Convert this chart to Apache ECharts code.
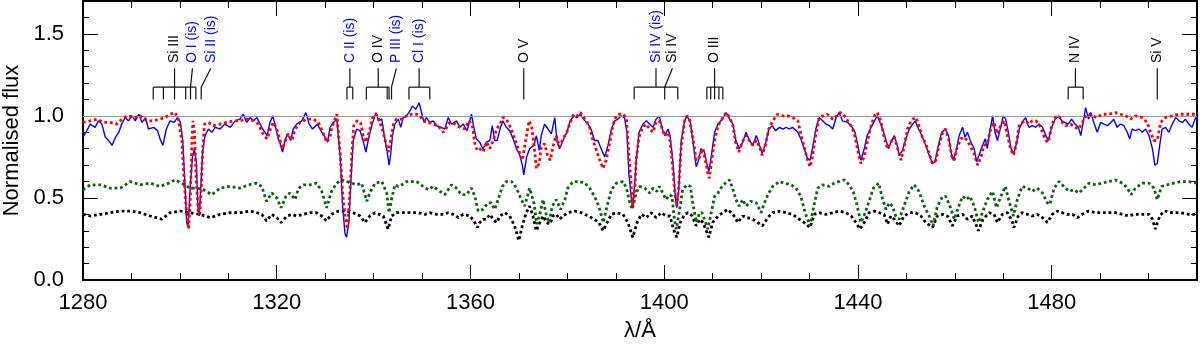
<!DOCTYPE html>
<html>
<head>
<meta charset="utf-8" />
<title>Normalised flux</title>
<script src="https://cdn.jsdelivr.net/npm/echarts@6/dist/echarts.min.js"></script>
<style>
  html, body { margin: 0; padding: 0; background: #fff; }
  #chart { width: 1200px; height: 345px; }
</style>
</head>
<body>
<div id="chart"></div>
<script type="text/javascript">
// observed spectrum (blue), [wavelength, flux]
var observed = [
  [1280.0,0.87],[1280.8,0.91],[1281.5,0.95],[1282.5,0.93],[1283.2,0.97],[1283.9,0.95],[1284.6,0.87],[1285.3,0.85],[1286.0,0.82],[1286.7,0.87],
  [1287.4,0.90],[1288.0,0.95],[1288.7,0.99],[1289.4,0.97],[1290.1,1.00],[1290.8,0.97],[1291.5,1.01],[1292.2,0.96],[1292.9,0.99],[1293.5,0.92],
  [1294.6,0.93],[1295.4,0.91],[1295.9,0.86],[1296.5,0.82],[1297.2,0.92],[1298.0,0.97],[1298.8,0.96],[1299.5,0.99],[1300.1,0.96],[1300.6,0.85],
  [1301.1,0.55],[1301.4,0.35],[1301.7,0.33],[1302.1,0.55],[1302.6,0.75],[1303.0,0.80],[1303.4,0.72],[1303.7,0.45],[1304.0,0.39],[1304.3,0.55],
  [1304.7,0.78],[1305.2,0.88],[1305.9,0.92],[1306.6,0.90],[1307.3,0.93],[1308.3,0.92],[1309.3,0.95],[1310.4,0.93],[1311.4,0.97],[1312.4,0.98],
  [1313.1,1.01],[1313.8,0.96],[1314.5,0.99],[1315.2,0.97],[1315.9,0.99],[1316.9,0.93],[1318.0,0.88],[1318.6,0.96],[1319.2,1.00],[1319.7,0.94],
  [1320.3,0.86],[1320.7,0.83],[1321.2,0.78],[1321.7,0.85],[1322.2,0.89],[1322.9,0.85],[1323.4,0.92],[1324.1,0.95],[1325.2,0.97],[1326.0,1.02],
  [1326.7,0.95],[1327.4,0.92],[1328.4,0.95],[1329.1,0.91],[1329.8,0.88],[1330.5,0.84],[1331.0,0.93],[1331.7,0.96],[1332.4,0.98],[1333.1,0.75],
  [1333.6,0.45],[1334.1,0.28],[1334.4,0.26],[1334.9,0.35],[1335.3,0.60],[1335.8,0.85],[1336.5,0.92],[1337.2,0.91],[1337.9,0.84],[1338.4,0.78],
  [1339.1,0.88],[1339.8,0.96],[1340.5,1.02],[1341.0,0.97],[1341.7,0.98],[1342.2,0.88],[1342.7,0.80],[1343.2,0.70],[1343.5,0.76],[1343.9,0.88],
  [1344.4,0.95],[1345.1,0.98],[1345.6,0.93],[1346.1,0.99],[1346.8,1.00],[1347.5,1.03],[1348.0,1.06],[1348.7,1.04],[1349.4,1.08],[1349.9,1.02],
  [1350.4,0.96],[1350.9,0.99],[1351.6,0.96],[1352.3,0.97],[1353.0,0.94],[1354.0,0.93],[1354.7,0.92],[1355.4,0.99],[1356.1,0.95],[1357.1,0.97],
  [1357.8,0.93],[1358.5,0.95],[1359.3,0.91],[1360.2,1.01],[1360.7,0.93],[1361.2,0.86],[1361.9,0.84],[1362.6,0.80],[1363.3,0.84],[1364.0,0.85],
  [1364.5,0.94],[1365.0,0.85],[1365.5,0.85],[1366.2,0.93],[1366.7,0.97],[1367.4,0.93],[1368.1,0.91],[1368.8,0.86],[1369.5,0.80],[1370.2,0.76],
  [1370.7,0.70],[1371.0,0.64],[1371.6,0.75],[1372.2,0.80],[1373.1,0.82],[1373.6,0.88],[1374.2,0.79],[1374.6,0.88],[1375.3,0.95],[1376.0,0.92],
  [1376.7,0.89],[1377.4,0.99],[1377.9,0.84],[1378.4,0.80],[1379.1,0.85],[1379.9,0.90],[1380.6,0.97],[1381.3,1.00],[1382.0,0.99],[1382.7,1.01],
  [1383.6,0.97],[1384.3,0.95],[1385.0,0.91],[1385.6,0.85],[1386.3,0.85],[1386.7,0.82],[1387.7,0.75],[1388.4,0.82],[1389.1,0.92],[1389.8,0.97],
  [1390.4,0.98],[1391.1,1.00],[1391.8,0.99],[1392.3,0.90],[1392.7,0.65],[1393.2,0.50],[1393.5,0.45],[1393.9,0.58],[1394.2,0.72],[1394.8,0.90],
  [1395.6,0.95],[1396.3,0.97],[1397.0,0.95],[1397.7,0.93],[1398.3,0.98],[1399.0,1.00],[1399.6,0.92],[1400.1,0.88],[1400.8,0.92],[1401.2,0.88],
  [1401.8,0.72],[1402.3,0.50],[1402.6,0.44],[1403.0,0.55],[1403.5,0.85],[1404.2,0.97],[1404.7,1.00],[1405.4,0.96],[1405.9,0.85],[1406.6,0.69],
  [1407.1,0.73],[1407.6,0.80],[1408.3,0.78],[1408.8,0.71],[1409.2,0.66],[1409.7,0.75],[1410.4,0.90],[1411.1,0.95],[1412.0,0.98],[1412.8,1.02],
  [1413.5,0.98],[1414.2,0.95],[1414.8,0.85],[1415.5,0.80],[1416.2,0.84],[1416.9,0.90],[1417.6,0.85],[1418.3,0.82],[1419.0,0.88],[1419.5,0.84],
  [1420.2,0.77],[1420.9,0.83],[1421.6,0.92],[1422.3,0.94],[1423.0,0.91],[1423.8,0.93],[1424.5,0.92],[1425.2,0.93],[1425.8,0.92],[1426.5,0.93],
  [1427.6,0.90],[1428.2,0.86],[1428.9,0.80],[1429.6,0.74],[1430.1,0.73],[1430.6,0.80],[1431.3,0.92],[1432.0,0.99],[1432.7,0.97],[1433.4,0.95],
  [1434.1,0.94],[1434.8,0.92],[1435.5,0.99],[1436.1,1.02],[1436.8,0.97],[1437.9,0.96],[1438.8,0.93],[1439.4,0.90],[1440.1,0.80],[1440.6,0.73],
  [1441.3,0.80],[1441.9,0.88],[1442.7,0.93],[1443.4,0.97],[1444.0,1.00],[1444.4,0.99],[1445.1,0.92],[1445.8,0.85],[1446.3,0.80],[1446.8,0.84],
  [1447.5,0.88],[1448.2,0.81],[1448.5,0.76],[1449.2,0.79],[1449.9,0.86],[1450.6,0.92],[1451.3,0.95],[1451.8,0.97],[1452.5,0.92],[1453.2,0.88],
  [1454.0,0.82],[1454.7,0.76],[1455.4,0.71],[1455.9,0.72],[1456.6,0.82],[1457.3,0.90],[1458.0,0.92],[1458.7,0.88],[1459.2,0.78],[1459.7,0.73],
  [1460.2,0.78],[1460.9,0.88],[1461.6,0.93],[1462.1,0.87],[1462.6,0.90],[1463.3,0.84],[1464.0,0.80],[1464.5,0.72],[1465.0,0.76],[1465.7,0.82],
  [1466.3,0.86],[1466.7,0.80],[1467.2,0.90],[1467.8,1.00],[1468.3,0.90],[1468.8,0.85],[1469.3,0.91],[1470.0,1.00],[1470.5,0.98],[1471.1,0.89],
  [1471.6,0.80],[1472.2,0.77],[1472.7,0.83],[1473.3,0.92],[1473.9,0.96],[1474.6,0.99],[1475.3,0.93],[1476.0,0.94],[1476.7,0.93],[1477.4,0.95],
  [1478.1,0.93],[1478.8,0.88],[1479.3,0.85],[1480.0,0.93],[1480.7,0.98],[1481.4,1.00],[1482.1,0.97],[1482.7,0.96],[1483.4,0.95],[1484.1,0.98],
  [1484.8,0.95],[1485.5,0.93],[1486.0,0.88],[1486.5,0.96],[1487.0,1.05],[1487.6,0.98],[1488.1,1.02],[1488.7,0.96],[1489.4,0.90],[1490.1,0.96],
  [1490.8,0.95],[1491.5,0.94],[1492.2,0.96],[1492.8,0.98],[1493.5,0.93],[1494.2,0.95],[1494.9,0.94],[1495.6,0.90],[1496.1,0.86],[1496.6,0.92],
  [1497.3,0.91],[1498.0,0.92],[1498.7,0.90],[1499.4,0.92],[1500.1,0.88],[1500.8,0.80],[1501.3,0.70],[1501.8,0.71],[1502.3,0.82],[1502.8,0.92],
  [1503.5,0.93],[1504.2,0.90],[1504.9,0.95],[1505.6,0.99],[1506.3,0.97],[1507.0,0.96],[1507.6,0.98],[1508.3,0.95],[1509.0,0.93],[1509.7,0.99],
  [1510.0,0.97]
];

// model fit (red dotted)
var model = [
  [1280.0,0.96],[1281.5,0.97],[1282.9,0.98],[1284.3,0.96],[1285.6,0.96],[1287.0,0.95],[1288.4,0.99],[1289.4,1.00],[1290.8,0.99],[1291.8,1.00],
  [1293.2,0.97],[1294.6,0.97],[1295.9,0.98],[1297.0,0.99],[1298.0,1.01],[1299.0,1.02],[1299.7,0.98],[1300.4,0.85],[1300.9,0.60],[1301.4,0.40],
  [1301.8,0.31],[1302.1,0.45],[1302.5,0.85],[1302.7,0.97],[1303.0,0.90],[1303.4,0.60],[1303.8,0.42],[1304.1,0.40],[1304.4,0.55],[1304.7,0.80],
  [1305.1,0.95],[1305.9,0.96],[1306.9,0.94],[1308.3,0.95],[1309.7,0.96],[1311.1,0.97],[1312.4,0.97],[1313.8,0.98],[1315.2,0.97],[1316.2,0.95],
  [1317.2,0.89],[1318.0,0.86],[1318.8,0.93],[1319.3,0.96],[1320.0,0.92],[1320.7,0.85],[1321.2,0.80],[1321.9,0.86],[1322.4,0.89],[1323.1,0.85],
  [1323.8,0.92],[1324.8,0.96],[1326.2,0.98],[1327.6,0.98],[1328.6,0.96],[1329.5,0.90],[1330.3,0.84],[1331.0,0.87],[1331.3,0.92],[1332.4,1.01],
  [1333.1,0.77],[1333.6,0.53],[1334.1,0.39],[1334.6,0.31],[1334.8,0.30],[1335.1,0.53],[1335.5,0.77],[1335.9,0.94],[1336.6,0.97],[1337.3,0.96],
  [1337.9,0.87],[1338.4,0.84],[1339.1,0.90],[1339.9,1.00],[1340.6,1.01],[1341.3,0.96],[1342.0,0.90],[1342.7,0.81],[1343.1,0.78],[1343.5,0.85],
  [1344.1,0.95],[1344.7,0.98],[1345.8,0.98],[1346.8,1.00],[1347.8,1.01],[1348.9,1.01],[1349.6,1.00],[1350.2,0.97],[1351.3,0.96],[1352.3,0.95],
  [1353.3,0.94],[1354.4,0.90],[1355.1,0.93],[1355.7,0.96],[1356.8,0.95],[1357.8,0.93],[1358.8,0.92],[1359.7,0.97],[1360.4,0.94],[1360.9,0.83],
  [1361.4,0.79],[1361.9,0.80],[1362.6,0.78],[1363.3,0.84],[1364.0,0.80],[1364.7,0.85],[1365.4,0.92],[1366.1,0.95],[1366.7,0.99],[1367.4,0.98],
  [1368.1,0.94],[1368.8,0.89],[1369.5,0.83],[1370.2,0.77],[1370.7,0.73],[1371.4,0.85],[1372.1,0.97],[1372.6,0.94],[1373.1,0.83],[1373.6,0.68],
  [1374.2,0.71],[1374.6,0.81],[1375.3,0.83],[1376.0,0.75],[1376.5,0.73],[1377.0,0.81],[1377.7,0.88],[1378.4,0.81],[1379.1,0.86],[1379.9,0.90],
  [1380.6,0.96],[1381.3,1.01],[1382.0,1.00],[1382.7,1.02],[1383.6,0.98],[1384.5,0.94],[1385.3,0.85],[1386.0,0.79],[1386.7,0.73],[1387.4,0.68],
  [1388.0,0.73],[1388.7,0.83],[1389.4,0.94],[1390.1,1.00],[1390.8,1.01],[1391.6,1.01],[1392.2,0.98],[1392.7,0.77],[1393.2,0.57],[1393.5,0.45],
  [1393.9,0.53],[1394.2,0.73],[1394.8,0.87],[1395.5,0.93],[1396.3,0.95],[1397.0,0.92],[1397.7,0.90],[1398.3,0.96],[1399.0,0.97],[1399.6,0.92],
  [1400.1,0.88],[1400.8,0.90],[1401.2,0.85],[1401.8,0.67],[1402.2,0.53],[1402.6,0.45],[1403.0,0.57],[1403.5,0.81],[1404.2,0.97],[1404.7,1.00],
  [1405.2,0.98],[1405.9,0.87],[1406.6,0.73],[1407.3,0.75],[1408.0,0.80],[1408.5,0.73],[1409.0,0.65],[1409.3,0.62],[1409.8,0.73],[1410.4,0.85],
  [1411.1,0.94],[1411.7,0.97],[1412.8,1.02],[1413.5,0.99],[1414.2,0.94],[1414.8,0.83],[1415.4,0.78],[1416.1,0.84],[1416.9,0.88],[1417.6,0.85],
  [1418.3,0.82],[1419.0,0.85],[1419.7,0.81],[1420.2,0.76],[1420.9,0.82],[1421.6,0.92],[1422.4,0.97],[1423.4,1.01],[1424.5,1.00],[1425.5,1.00],
  [1426.5,0.99],[1427.6,0.97],[1428.2,0.89],[1428.9,0.81],[1429.6,0.73],[1430.1,0.69],[1430.6,0.75],[1431.3,0.89],[1432.0,0.99],[1432.8,1.00],
  [1433.7,1.01],[1434.8,0.98],[1435.6,1.00],[1436.3,1.02],[1437.0,1.01],[1437.9,0.97],[1438.8,0.93],[1439.4,0.87],[1440.1,0.77],[1440.6,0.71],
  [1441.3,0.75],[1442.0,0.85],[1442.7,0.94],[1443.4,1.00],[1444.0,1.02],[1444.7,0.97],[1445.4,0.87],[1446.1,0.80],[1446.8,0.84],[1447.5,0.87],
  [1448.2,0.80],[1448.9,0.73],[1449.5,0.81],[1450.4,0.94],[1451.3,0.98],[1452.0,0.99],[1452.6,0.94],[1453.3,0.87],[1454.0,0.83],[1454.7,0.77],
  [1455.4,0.71],[1456.1,0.73],[1456.8,0.83],[1457.5,0.90],[1458.1,0.92],[1458.8,0.85],[1459.4,0.75],[1459.9,0.73],[1460.5,0.81],[1461.2,0.86],
  [1461.9,0.87],[1462.6,0.85],[1463.3,0.81],[1464.0,0.77],[1464.7,0.70],[1465.4,0.75],[1466.0,0.82],[1466.7,0.83],[1467.4,0.92],[1468.1,0.96],
  [1468.8,0.89],[1469.5,0.94],[1470.2,0.97],[1470.8,0.89],[1471.5,0.80],[1472.1,0.76],[1472.7,0.83],[1473.3,0.94],[1473.9,0.96],[1474.6,0.97],
  [1475.3,0.95],[1476.0,0.97],[1476.7,0.97],[1477.4,0.95],[1478.1,0.90],[1478.8,0.85],[1479.3,0.84],[1480.0,0.94],[1480.7,0.99],[1481.5,1.00],
  [1482.2,0.96],[1482.9,0.94],[1483.9,0.95],[1484.9,0.93],[1485.6,0.92],[1486.5,0.97],[1487.3,1.01],[1488.4,1.00],[1489.4,0.99],[1490.4,1.01],
  [1491.8,1.01],[1493.2,1.02],[1494.2,1.01],[1495.3,1.00],[1496.3,0.98],[1497.3,1.00],[1498.7,0.99],[1499.7,0.96],[1500.4,0.90],[1501.1,0.85],
  [1501.8,0.85],[1502.5,0.96],[1503.5,0.99],[1504.9,1.00],[1506.2,1.01],[1507.6,1.01],[1509.0,1.01],[1510.0,1.01]
];

// component spectrum (green dotted)
var compA = [
  [1280.0,0.55],[1281.5,0.58],[1283.6,0.58],[1285.6,0.56],[1287.7,0.56],[1289.8,0.60],[1291.8,0.58],[1293.9,0.59],[1295.9,0.57],[1297.7,0.59],
  [1299.0,0.61],[1300.4,0.59],[1302.1,0.56],[1303.5,0.56],[1304.9,0.55],[1306.6,0.52],[1308.3,0.56],[1310.4,0.57],[1312.4,0.56],[1314.2,0.58],
  [1315.9,0.59],[1316.9,0.57],[1317.9,0.48],[1319.0,0.53],[1320.0,0.50],[1320.9,0.44],[1321.9,0.51],[1322.7,0.53],[1323.8,0.49],[1324.5,0.56],
  [1325.5,0.58],[1326.9,0.58],[1328.2,0.59],[1329.3,0.54],[1330.3,0.44],[1331.3,0.54],[1332.4,0.59],[1333.4,0.61],[1334.4,0.60],[1335.5,0.59],
  [1336.5,0.58],[1337.5,0.59],[1338.6,0.48],[1339.2,0.53],[1340.3,0.59],[1341.7,0.60],[1342.7,0.53],[1343.2,0.41],[1343.7,0.49],[1344.4,0.58],
  [1345.1,0.57],[1345.8,0.58],[1346.8,0.60],[1348.9,0.60],[1350.2,0.57],[1351.3,0.55],[1352.3,0.57],[1353.7,0.54],[1354.7,0.52],[1356.1,0.58],
  [1357.1,0.56],[1358.1,0.52],[1359.2,0.52],[1360.2,0.56],[1360.9,0.51],[1361.6,0.42],[1362.6,0.43],[1363.6,0.47],[1364.3,0.47],[1365.0,0.43],
  [1365.7,0.49],[1366.6,0.57],[1367.4,0.60],[1368.5,0.60],[1369.5,0.56],[1370.5,0.49],[1371.2,0.45],[1372.2,0.56],[1373.1,0.47],[1373.7,0.34],
  [1374.4,0.41],[1375.0,0.49],[1375.7,0.39],[1376.2,0.35],[1376.9,0.45],[1377.7,0.49],[1378.6,0.43],[1379.5,0.49],[1380.1,0.56],[1381.2,0.60],
  [1382.5,0.60],[1383.6,0.59],[1384.6,0.56],[1385.6,0.51],[1386.5,0.45],[1387.4,0.35],[1388.2,0.45],[1389.1,0.55],[1390.1,0.59],[1391.5,0.60],
  [1392.2,0.56],[1392.9,0.47],[1393.4,0.43],[1394.2,0.53],[1394.9,0.57],[1396.0,0.56],[1397.0,0.53],[1397.7,0.56],[1398.5,0.54],[1399.0,0.57],
  [1399.7,0.53],[1400.4,0.49],[1401.1,0.52],[1401.6,0.51],[1402.1,0.37],[1402.5,0.31],[1403.2,0.43],[1403.8,0.55],[1404.7,0.58],[1405.4,0.57],
  [1406.0,0.45],[1406.7,0.35],[1407.3,0.41],[1407.8,0.41],[1408.3,0.37],[1409.0,0.31],[1409.7,0.41],[1410.4,0.51],[1411.1,0.53],[1411.7,0.56],
  [1412.6,0.59],[1413.5,0.61],[1414.2,0.55],[1414.8,0.49],[1415.5,0.45],[1416.2,0.49],[1416.9,0.45],[1417.9,0.48],[1419.0,0.47],[1420.0,0.41],
  [1420.7,0.47],[1421.4,0.52],[1422.4,0.57],[1423.8,0.60],[1424.8,0.59],[1426.2,0.58],[1427.2,0.56],[1428.2,0.51],[1429.1,0.41],[1430.1,0.33],
  [1430.6,0.41],[1431.7,0.56],[1432.7,0.58],[1434.1,0.57],[1435.1,0.59],[1436.1,0.60],[1437.2,0.61],[1438.2,0.58],[1439.0,0.54],[1439.7,0.47],
  [1440.6,0.35],[1441.5,0.41],[1442.3,0.48],[1443.2,0.56],[1444.3,0.59],[1445.1,0.49],[1445.8,0.43],[1446.5,0.47],[1447.1,0.45],[1447.8,0.39],
  [1448.5,0.37],[1449.5,0.45],[1450.6,0.54],[1451.6,0.58],[1452.6,0.54],[1453.7,0.45],[1454.7,0.39],[1455.5,0.33],[1456.4,0.45],[1457.5,0.51],
  [1458.1,0.51],[1459.0,0.45],[1459.9,0.37],[1460.7,0.44],[1461.6,0.51],[1462.4,0.49],[1463.1,0.51],[1464.0,0.45],[1464.9,0.35],[1465.7,0.41],
  [1466.7,0.49],[1467.8,0.54],[1468.6,0.44],[1469.5,0.51],[1470.4,0.57],[1471.3,0.47],[1472.1,0.39],[1472.9,0.49],[1473.9,0.57],[1475.0,0.56],
  [1476.0,0.54],[1477.0,0.56],[1478.1,0.53],[1479.1,0.47],[1479.6,0.46],[1480.5,0.56],[1481.5,0.60],[1482.5,0.57],[1483.6,0.54],[1484.6,0.55],
  [1485.6,0.53],[1486.7,0.56],[1487.7,0.59],[1489.1,0.58],[1490.4,0.59],[1491.8,0.60],[1493.2,0.61],[1494.6,0.59],[1495.6,0.56],[1496.4,0.52],
  [1497.3,0.56],[1498.7,0.59],[1500.1,0.59],[1501.1,0.56],[1501.8,0.49],[1502.7,0.57],[1503.8,0.58],[1505.2,0.59],[1506.6,0.60],[1508.3,0.60],
  [1510.0,0.59]
];

// component spectrum (black dotted)
var compB = [
  [1280.0,0.40],[1281.5,0.39],[1283.6,0.40],[1285.6,0.41],[1287.7,0.42],[1289.8,0.42],[1291.8,0.41],[1293.9,0.39],[1296.3,0.37],[1298.0,0.41],
  [1300.1,0.42],[1302.1,0.41],[1304.1,0.40],[1306.3,0.38],[1308.3,0.40],[1310.4,0.41],[1312.4,0.41],[1314.5,0.42],[1315.9,0.41],[1316.9,0.40],
  [1317.9,0.36],[1319.0,0.40],[1320.0,0.38],[1320.9,0.35],[1322.1,0.39],[1323.1,0.40],[1324.1,0.39],[1325.5,0.40],[1326.9,0.41],[1328.2,0.41],
  [1329.3,0.39],[1330.3,0.36],[1331.3,0.40],[1332.7,0.42],[1334.4,0.42],[1335.8,0.41],[1337.2,0.39],[1338.2,0.35],[1339.2,0.39],[1340.3,0.41],
  [1342.0,0.39],[1343.0,0.31],[1343.7,0.39],[1344.7,0.41],[1346.1,0.41],[1347.8,0.41],[1349.2,0.41],[1350.6,0.40],[1351.6,0.41],[1353.0,0.40],
  [1354.4,0.40],[1355.4,0.41],[1356.4,0.40],[1357.5,0.38],[1358.5,0.40],[1359.9,0.39],[1360.9,0.35],[1361.4,0.32],[1361.9,0.35],[1362.6,0.37],
  [1363.3,0.37],[1364.0,0.40],[1364.7,0.37],[1365.4,0.35],[1366.1,0.39],[1367.1,0.41],[1368.1,0.39],[1369.1,0.33],[1370.0,0.24],[1370.7,0.33],
  [1371.5,0.41],[1372.2,0.45],[1372.9,0.39],[1373.6,0.30],[1374.3,0.35],[1375.0,0.39],[1375.7,0.35],[1376.4,0.34],[1377.0,0.39],[1377.7,0.40],
  [1378.4,0.37],[1379.1,0.39],[1380.1,0.41],[1381.5,0.42],[1382.9,0.41],[1384.3,0.39],[1385.6,0.37],[1386.5,0.35],[1387.4,0.30],[1388.2,0.35],
  [1389.1,0.40],[1390.1,0.41],[1391.5,0.40],[1392.5,0.35],[1393.5,0.26],[1394.4,0.35],[1395.3,0.40],[1396.3,0.38],[1397.3,0.41],[1398.3,0.38],
  [1399.4,0.41],[1400.4,0.39],[1401.2,0.39],[1401.9,0.31],[1402.6,0.26],[1403.3,0.35],[1404.2,0.40],[1404.9,0.41],[1405.8,0.39],[1406.6,0.33],
  [1407.3,0.37],[1408.0,0.35],[1408.7,0.30],[1409.2,0.26],[1410.0,0.35],[1411.1,0.39],[1412.1,0.41],[1413.1,0.43],[1414.2,0.40],[1415.2,0.35],
  [1416.2,0.39],[1417.2,0.38],[1418.3,0.37],[1419.3,0.35],[1420.3,0.33],[1421.4,0.38],[1422.4,0.41],[1423.8,0.42],[1425.2,0.41],[1426.5,0.40],
  [1427.9,0.37],[1428.9,0.35],[1430.1,0.32],[1431.0,0.40],[1432.0,0.41],[1433.4,0.40],[1434.8,0.41],[1436.1,0.42],[1437.5,0.41],[1438.6,0.39],
  [1439.6,0.35],[1440.4,0.31],[1441.3,0.35],[1442.3,0.41],[1443.4,0.42],[1444.4,0.41],[1445.4,0.40],[1446.1,0.34],[1446.8,0.39],[1447.5,0.37],
  [1448.5,0.33],[1449.5,0.39],[1450.6,0.41],[1451.9,0.41],[1453.0,0.39],[1454.0,0.35],[1455.4,0.32],[1456.4,0.39],[1457.5,0.40],[1458.5,0.39],
  [1459.5,0.33],[1460.5,0.39],[1461.6,0.40],[1462.6,0.37],[1463.6,0.39],[1464.9,0.30],[1465.8,0.37],[1467.1,0.41],[1468.1,0.40],[1468.8,0.35],
  [1469.8,0.40],[1470.9,0.41],[1471.8,0.36],[1472.2,0.32],[1473.1,0.39],[1473.9,0.41],[1475.0,0.40],[1476.0,0.39],[1477.0,0.40],[1478.1,0.38],
  [1479.1,0.35],[1480.1,0.40],[1481.2,0.42],[1482.2,0.41],[1483.2,0.40],[1484.3,0.40],[1485.3,0.38],[1486.3,0.40],[1487.6,0.42],[1489.1,0.41],
  [1490.4,0.41],[1491.8,0.41],[1493.2,0.41],[1494.6,0.40],[1495.9,0.39],[1497.0,0.40],[1498.7,0.40],[1500.1,0.40],[1500.8,0.37],[1501.4,0.31],
  [1502.3,0.39],[1503.2,0.42],[1504.9,0.41],[1506.6,0.41],[1508.3,0.40],[1510.0,0.40]
];

// line identifications
var idLabels = ['Si III', 'O I (is)', 'Si II (is)', 'C II (is)', 'O IV', 'P III (is)', 'Cl I (is)', 'O V', 'Si IV (is)', 'Si IV', 'O III', 'N IV', 'Si V'];
var idLabelWave = [1298.9, 1302.6, 1306.4, 1335.1, 1340.95, 1344.7, 1349.4, 1371.0, 1398.3, 1401.7, 1410.4, 1484.9, 1501.8];
var idLineWaves = [
  [1294.5, 1296.6, 1298.9, 1301.2, 1303.3],
  [1302.2],
  [1304.4],
  [1334.5, 1335.7],
  [1338.5, 1342.8, 1343.2],
  [1343.7],
  [1347.3, 1351.6],
  [1371.0],
  [1393.8, 1402.8],
  [1400.1],
  [1408.8, 1409.6, 1410.4, 1411.3, 1412.1],
  [1483.4, 1486.5],
  [1501.8]
];
var idInterstellar = [false, true, true, true, false, true, true, false, true, false, false, false, false];
// heights (in flux units) of the marker pieces
var idTextBase = 1.322, idTop = 1.29, idBar = 1.175, idBottom = 1.10;

var FONT = 'Liberation Sans';

function renderIds(params, api) {
  var i = api.value(2);
  var waves = idLineWaves[i];
  var color = idInterstellar[i] ? '#0000ff' : '#000000';
  var top = api.coord([idLabelWave[i], idTop]);
  var barY = api.coord([idLabelWave[i], idBar])[1];
  var botY = api.coord([idLabelWave[i], idBottom])[1];
  var textPt = api.coord([idLabelWave[i], idTextBase]);
  var lineStyle = { stroke: '#111', lineWidth: 1.2, fill: null };
  var children = [];
  if (waves.length == 1) {
    var x1 = api.coord([waves[0], idBar])[0];
    children.push({ type: 'polyline', shape: { points: [top, [x1, barY], [x1, botY]] }, style: lineStyle });
  } else {
    var xs = waves.map(function (w) { return api.coord([w, idBar])[0]; });
    children.push({ type: 'line', shape: { x1: top[0], y1: top[1], x2: top[0], y2: barY }, style: lineStyle });
    children.push({ type: 'line', shape: { x1: Math.min.apply(null, xs), y1: barY, x2: Math.max.apply(null, xs), y2: barY }, style: lineStyle });
    xs.forEach(function (x) {
      children.push({ type: 'line', shape: { x1: x, y1: barY, x2: x, y2: botY }, style: lineStyle });
    });
  }
  children.push({
    type: 'text', x: textPt[0], y: textPt[1], rotation: Math.PI / 2,
    style: { text: idLabels[i], fill: color, fontSize: 14, fontFamily: FONT, align: 'left', verticalAlign: 'middle' }
  });
  return { type: 'group', children: children };
}

function dotted(color) {
  return { color: color, width: 2.8, type: [2.8, 2.8], cap: 'butt' };
}

// major + minor tick axes, ticks pointing inside
function xAx(pos, interval, len, withLabels) {
  return {
    type: 'value', position: pos, min: 1280, max: 1510, interval: interval,
    axisLine: { show: withLabels !== null, onZero: false, lineStyle: { color: '#000', width: 2 } },
    axisTick: { inside: true, length: len, lineStyle: { color: '#000', width: 1 } },
    axisLabel: {
      show: !!withLabels, showMaxLabel: false, margin: 12, color: '#000', fontSize: 22, fontFamily: FONT,
      formatter: function (v) { return String(v); }
    },
    splitLine: { show: false }
  };
}
function yAx(pos, interval, len, withLabels) {
  return {
    type: 'value', position: pos, min: 0, max: 1.7, interval: interval,
    axisLine: { show: withLabels !== null, onZero: false, lineStyle: { color: '#000', width: 2 } },
    axisTick: { inside: true, length: len, lineStyle: { color: '#000', width: 1 } },
    axisLabel: {
      show: !!withLabels, showMaxLabel: false, margin: 19, color: '#000', fontSize: 22, fontFamily: FONT,
      formatter: function (v) { return v.toFixed(1); }
    },
    splitLine: { show: false }
  };
}

var xMain = xAx('bottom', 40, 15, true);
xMain.name = 'λ/Å';
xMain.nameLocation = 'middle';
xMain.nameGap = 40;
xMain.nameTextStyle = { color: '#000', fontSize: 22, fontFamily: FONT };
var yMain = yAx('left', 0.5, 15, true);
yMain.name = 'Normalised flux';
yMain.nameLocation = 'middle';
yMain.nameGap = 60;
yMain.nameTextStyle = { color: '#000', fontSize: 22, fontFamily: FONT };

var chart = echarts.init(document.getElementById('chart'), null, { renderer: 'canvas' });
chart.setOption({
  animation: false,
  backgroundColor: '#fff',
  grid: { left: 83, right: 3, top: 1, bottom: 65, containLabel: false, outerBoundsMode: 'none' },
  xAxis: [xMain, xAx('bottom', 10, 7, null), xAx('top', 40, 15, false), xAx('top', 10, 7, null)],
  yAxis: [yMain, yAx('left', 0.1, 6, null), yAx('right', 0.5, 15, false), yAx('right', 0.1, 6, null)],
  series: [
    {
      type: 'line', data: compB, showSymbol: false, lineStyle: dotted('#000000'), z: 2,
      markLine: {
        silent: true, symbol: 'none', label: { show: false },
        lineStyle: { color: '#999', width: 1.2, type: 'solid' },
        data: [{ yAxis: 1.0 }]
      }
    },
    { type: 'line', data: compA, showSymbol: false, lineStyle: dotted('#0a640a'), z: 3 },
    { type: 'line', data: observed, showSymbol: false, lineStyle: { color: '#0000ff', width: 1.4 }, z: 4 },
    { type: 'line', data: model, showSymbol: false, lineStyle: dotted('#ff0000'), z: 5 },
    {
      type: 'custom', renderItem: renderIds, z: 6,
      encode: { x: 0, y: 1 },
      data: idLabelWave.map(function (w, i) { return [w, idBar, i]; })
    }
  ]
});
</script>
</body>
</html>
